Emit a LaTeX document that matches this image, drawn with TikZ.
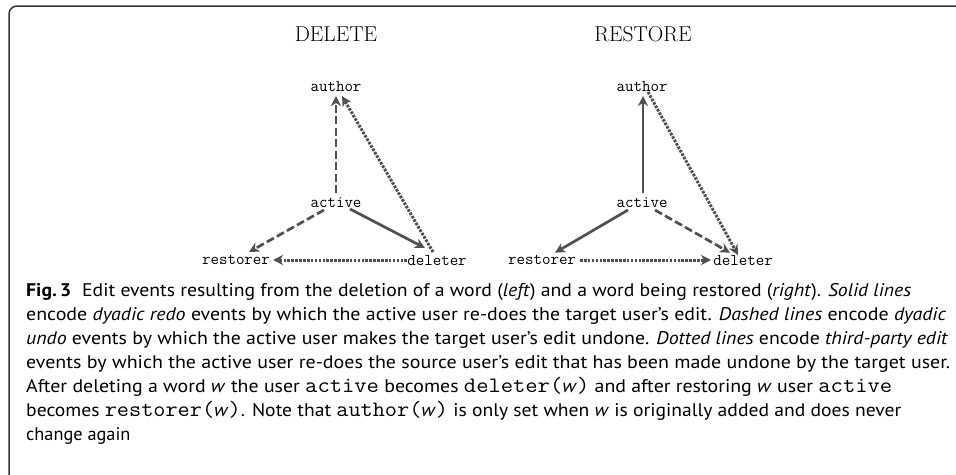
\documentclass[tikz,border=0pt]{standalone}
\usepackage{fontspec}
\usepackage{graphicx}
\usetikzlibrary{arrows.meta,calc}
\newfontfamily\capfont{PT Sans}
\definecolor{arrowgray}{HTML}{505050}
\definecolor{framegray}{HTML}{333333}
\newcommand{\cmo}[1]{{\ttfamily\fontsize{22}{22}\selectfont #1}}
\newcommand{\capline}[2]{\resizebox{#1}{\height}{#2}}
\tikzset{
  lbl/.style={font=\ttfamily\fontsize{16.5}{16.5}\selectfont, inner sep=0pt, text depth=0pt},
  ttl/.style={font=\rmfamily\fontsize{21.5}{21.5}\selectfont, inner sep=0pt},
  edge/.style={draw=arrowgray, line width=2.7pt, -{Stealth[length=10pt,width=10pt,inset=3pt]}},
  solidedge/.style={edge},
  dashedge/.style={edge, dash pattern=on 8pt off 3.5pt},
  dotedge/.style={edge, line width=3pt, dash pattern=on 2.6pt off 1.3pt},
  capstyle/.style={font=\capfont\fontsize{18.3}{24}\selectfont, inner sep=0pt, anchor=base west},
  frame/.style={draw=framegray, line width=1.5pt, rounded corners=8pt}
}
\begin{document}
\begin{tikzpicture}[x=1pt,y=-1pt]
\useasboundingbox (0,0) rectangle (956,474);
\draw[frame] (9,480) -- (9,6) -- (962,6);

% titles
\node[ttl] (tdel) at (336,34) {DELETE};
\node[ttl] (tres) at (643,34) {RESTORE};

% left panel
\node[lbl] (auL) at (336,86) {author};
\node[lbl] (acL) at (336,202.7) {active};
\node[lbl] (reL) at (236,260) {restorer};
\node[lbl] (deL) at (437,260) {deleter};

\draw[dashedge] ($(acL)+(0,-9.7)$) -- ($(auL)+(0,10)$);
\draw[dotedge] ($(deL)+(-4,-8)$) -- ($(auL)+(6,10)$);
\draw[solidedge] ($(acL)+(14,6.3)$) -- ($(deL)+(-12,-12)$);
\draw[dashedge] ($(acL)+(-12,7.3)$) -- ($(reL)+(13,-8)$);
\draw[dotedge] ($(deL)+(-30,0)$) -- ($(reL)+(37,0)$);

% right panel
\node[lbl] (auR) at (642,86) {author};
\node[lbl] (acR) at (642,202.7) {active};
\node[lbl] (reR) at (542,260) {restorer};
\node[lbl] (deR) at (743,260) {deleter};

\draw[solidedge] ($(acR)+(1,-9.7)$) -- ($(auR)+(1,10)$);
\draw[dotedge] ($(auR)+(6,6)$) -- ($(deR)+(-5,-5)$);
\draw[dashedge] ($(acR)+(13,7.3)$) -- ($(deR)+(-13,-7.3)$);
\draw[solidedge] ($(acR)+(-14,7.3)$) -- ($(reR)+(13,-7.3)$);
\draw[dotedge] ($(reR)+(38,0)$) -- ($(deR)+(-32,0)$);

% caption
\node[capstyle] (c1) at (26,296) {\capline{885pt}{\textbf{Fig.\,3}\hspace{10pt}Edit events resulting from the deletion of a word (\textit{left}) and a word being restored (\textit{right}). \textit{Solid lines}}};
\node[capstyle] (c2) at (26,320) {\capline{920pt}{encode \textit{dyadic redo} events by which the active user re-does the target user’s edit. \textit{Dashed lines} encode \textit{dyadic}}};
\node[capstyle] (c3) at (26,344) {\capline{922pt}{\textit{undo} events by which the active user makes the target user’s edit undone. \textit{Dotted lines} encode \textit{third-party edit}}};
\node[capstyle] (c4) at (26,368) {\capline{924pt}{events by which the active user re-does the source user’s edit that has been made undone by the target user.}};
\node[capstyle] (c5) at (26,392) {\capline{866pt}{After deleting a word \textit{w} the user \cmo{active} becomes \cmo{deleter(}\textit{w}\cmo{)} and after restoring \textit{w} user \cmo{active}}};
\node[capstyle] (c6) at (26,416) {\capline{875pt}{becomes \cmo{restorer(}\textit{w}\cmo{)}. Note that \cmo{author(}\textit{w}\cmo{)} is only set when \textit{w} is originally added and does never}};
\node[capstyle] (c7) at (26,440) {change again};
\end{tikzpicture}
\end{document}
